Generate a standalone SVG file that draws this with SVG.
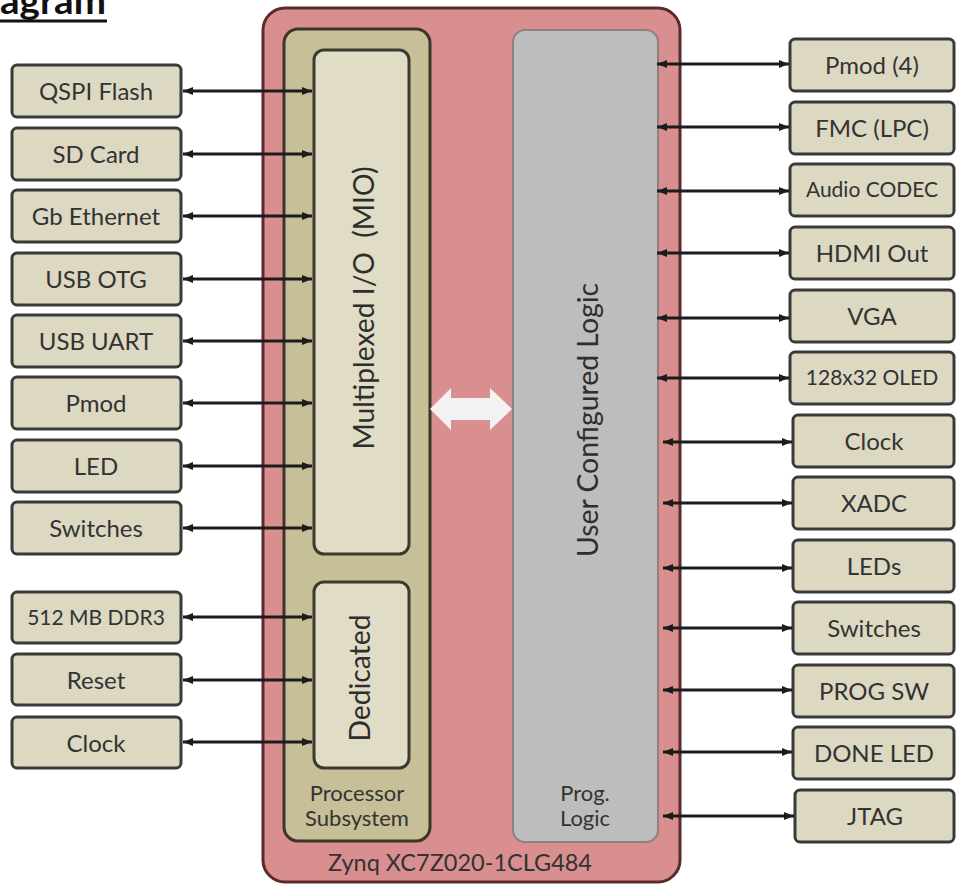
<svg xmlns="http://www.w3.org/2000/svg" width="956" height="884" viewBox="0 0 956 884">
<style>
.ext{fill:#dcd8c2;stroke:#3a3a3a;stroke-width:3}
.lbl{font-family:Lato,"Liberation Sans",sans-serif;font-size:24px;fill:#333;text-anchor:middle}
.sm{font-size:21px}
.two{font-size:22px}
.big{font-family:Lato,"Liberation Sans",sans-serif;font-size:29px;fill:#2e2e2e;text-anchor:middle;white-space:pre}
.con{stroke:#1c1c1c;stroke-width:3;fill:none;marker-start:url(#ah);marker-end:url(#ah)}
</style>
<defs>
<marker id="ah" viewBox="0 0 10 8" refX="10" refY="4" markerWidth="10" markerHeight="8" markerUnits="userSpaceOnUse" orient="auto-start-reverse">
<path d="M0,0 L10,4 L0,8 z" fill="#1c1c1c"/>
</marker>
</defs>
<rect width="956" height="884" fill="#ffffff"/>
<g id="title">
<text x="0" y="14" font-family="Lato,'Liberation Sans',sans-serif" font-weight="bold" font-size="36" fill="#111" textLength="106" lengthAdjust="spacingAndGlyphs">agram</text>
<line x1="0" y1="21" x2="107" y2="21" stroke="#111" stroke-width="3"/>
</g>
<g id="zynq">
<rect x="263" y="8" width="417" height="874" rx="22" fill="#d98f8f" stroke="#5c2a2a" stroke-width="3"/>
<text class="lbl" x="460" y="871" textLength="264" lengthAdjust="spacingAndGlyphs" fill="#3a2020">Zynq XC7Z020-1CLG484</text>
</g>
<g id="ps">
<rect x="284" y="29" width="146" height="812" rx="14" fill="#c6bf98" stroke="#3d3528" stroke-width="3"/>
<text class="lbl two" x="357" y="801">Processor</text>
<text class="lbl two" x="357" y="826">Subsystem</text>
</g>
<g id="mio">
<rect x="314" y="50" width="95" height="504" rx="10" fill="#e0dcc5" stroke="#3a3a30" stroke-width="3"/>
<text class="big" transform="translate(374,308) rotate(-90)" textLength="283" lengthAdjust="spacingAndGlyphs">Multiplexed I/O  (MIO)</text>
</g>
<g id="dedicated">
<rect x="314" y="582" width="95" height="186" rx="10" fill="#e0dcc5" stroke="#3a3a30" stroke-width="3"/>
<text class="big" transform="translate(370,678) rotate(-90)" textLength="127" lengthAdjust="spacingAndGlyphs">Dedicated</text>
</g>
<g id="pl">
<rect x="513" y="30" width="145" height="812" rx="12" fill="#bdbdbd" stroke="#8f8080" stroke-width="2"/>
<text class="big" transform="translate(598,420) rotate(-90)" textLength="274" lengthAdjust="spacingAndGlyphs">User Configured Logic</text>
<text class="lbl two" x="585" y="801">Prog.</text>
<text class="lbl two" x="585" y="826">Logic</text>
</g>
<g id="ps-pl-link">
<polygon points="430,409 451,388 451,398 490,398 490,388 512,409 490,430 490,420 451,420 451,430" fill="#f3f1f1"/>
</g>
<g id="left-nodes">
<g id="qspi"><rect class="ext" x="12" y="65" width="169" height="52" rx="5"/><text class="lbl" x="96" y="100">QSPI Flash</text></g>
<g id="sdcard"><rect class="ext" x="12" y="128" width="169" height="52" rx="5"/><text class="lbl" x="96" y="163">SD Card</text></g>
<g id="gbe"><rect class="ext" x="12" y="190" width="169" height="52" rx="5"/><text class="lbl" x="96" y="225">Gb Ethernet</text></g>
<g id="usbotg"><rect class="ext" x="12" y="253" width="169" height="52" rx="5"/><text class="lbl" x="96" y="288">USB OTG</text></g>
<g id="usbuart"><rect class="ext" x="12" y="315" width="169" height="52" rx="5"/><text class="lbl" x="96" y="350">USB UART</text></g>
<g id="pmod-l"><rect class="ext" x="12" y="377" width="169" height="52" rx="5"/><text class="lbl" x="96" y="412">Pmod</text></g>
<g id="led-l"><rect class="ext" x="12" y="440" width="169" height="52" rx="5"/><text class="lbl" x="96" y="475">LED</text></g>
<g id="switches-l"><rect class="ext" x="12" y="502" width="169" height="52" rx="5"/><text class="lbl" x="96" y="537">Switches</text></g>
<g id="ddr3"><rect class="ext" x="12" y="592" width="169" height="51" rx="5"/><text class="lbl sm" x="96" y="625">512 MB DDR3</text></g>
<g id="reset"><rect class="ext" x="12" y="654" width="169" height="51" rx="5"/><text class="lbl" x="96" y="689">Reset</text></g>
<g id="clock-l"><rect class="ext" x="12" y="717" width="169" height="51" rx="5"/><text class="lbl" x="96" y="752">Clock</text></g>
</g>
<g id="right-nodes">
<g id="pmod4"><rect class="ext" x="790" y="39" width="164" height="52" rx="5"/><text class="lbl" x="872" y="74">Pmod (4)</text></g>
<g id="fmc"><rect class="ext" x="790" y="102" width="164" height="52" rx="5"/><text class="lbl" x="872" y="137">FMC (LPC)</text></g>
<g id="audio"><rect class="ext" x="790" y="164" width="164" height="52" rx="5"/><text class="lbl sm" x="872" y="197">Audio CODEC</text></g>
<g id="hdmi"><rect class="ext" x="790" y="227" width="164" height="52" rx="5"/><text class="lbl" x="872" y="262">HDMI Out</text></g>
<g id="vga"><rect class="ext" x="790" y="290" width="164" height="52" rx="5"/><text class="lbl" x="872" y="325">VGA</text></g>
<g id="oled"><rect class="ext" x="790" y="352" width="164" height="52" rx="5"/><text class="lbl sm" x="872" y="385">128x32 OLED</text></g>
<g id="clock-r"><rect class="ext" x="793" y="415" width="161" height="52" rx="5"/><text class="lbl" x="874" y="450">Clock</text></g>
<g id="xadc"><rect class="ext" x="793" y="477" width="161" height="52" rx="5"/><text class="lbl" x="874" y="512">XADC</text></g>
<g id="leds"><rect class="ext" x="793" y="540" width="161" height="52" rx="5"/><text class="lbl" x="874" y="575">LEDs</text></g>
<g id="switches-r"><rect class="ext" x="793" y="602" width="161" height="52" rx="5"/><text class="lbl" x="874" y="637">Switches</text></g>
<g id="progsw"><rect class="ext" x="793" y="665" width="161" height="52" rx="5"/><text class="lbl" x="874" y="700">PROG SW</text></g>
<g id="doneled"><rect class="ext" x="793" y="727" width="161" height="52" rx="5"/><text class="lbl" x="874" y="762">DONE LED</text></g>
<g id="jtag"><rect class="ext" x="795" y="790" width="159" height="52" rx="5"/><text class="lbl" x="875" y="825">JTAG</text></g>
</g>
<g id="connectors">
<line class="con" x1="183" y1="91" x2="312" y2="91"/>
<line class="con" x1="183" y1="154" x2="312" y2="154"/>
<line class="con" x1="183" y1="216" x2="312" y2="216"/>
<line class="con" x1="183" y1="279" x2="312" y2="279"/>
<line class="con" x1="183" y1="341" x2="312" y2="341"/>
<line class="con" x1="183" y1="403" x2="312" y2="403"/>
<line class="con" x1="183" y1="466" x2="312" y2="466"/>
<line class="con" x1="183" y1="528" x2="312" y2="528"/>
<line class="con" x1="183" y1="617" x2="312" y2="617"/>
<line class="con" x1="183" y1="680" x2="312" y2="680"/>
<line class="con" x1="183" y1="742" x2="312" y2="742"/>
<line class="con" x1="657" y1="64" x2="789" y2="64"/>
<line class="con" x1="657" y1="127" x2="789" y2="127"/>
<line class="con" x1="657" y1="191" x2="789" y2="191"/>
<line class="con" x1="657" y1="253" x2="789" y2="253"/>
<line class="con" x1="657" y1="318" x2="789" y2="318"/>
<line class="con" x1="657" y1="378" x2="789" y2="378"/>
<line class="con" x1="663" y1="442" x2="792" y2="442"/>
<line class="con" x1="663" y1="503" x2="792" y2="503"/>
<line class="con" x1="663" y1="568" x2="792" y2="568"/>
<line class="con" x1="663" y1="628" x2="792" y2="628"/>
<line class="con" x1="663" y1="690" x2="792" y2="690"/>
<line class="con" x1="663" y1="752" x2="792" y2="752"/>
<line class="con" x1="663" y1="816" x2="794" y2="816"/>
</g>
</svg>
